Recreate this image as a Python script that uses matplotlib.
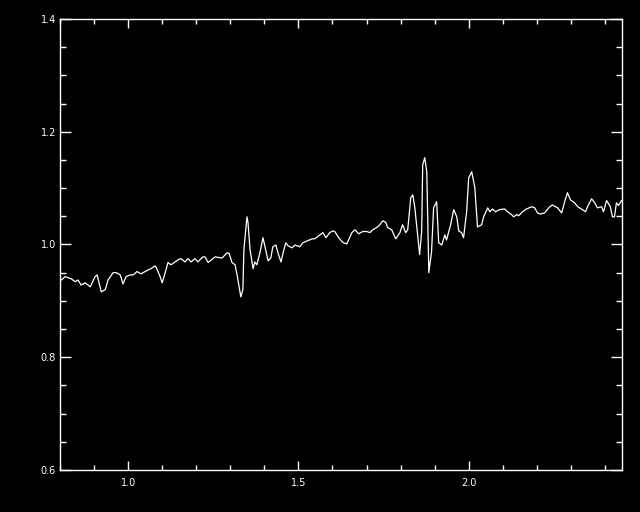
import numpy as np
import matplotlib
matplotlib.use('Agg')
import matplotlib.pyplot as plt
from matplotlib.ticker import MultipleLocator

# spectrum
wave = [0.804, 0.815, 0.824, 0.833, 0.845, 0.853, 0.862, 0.874, 0.889, 0.903,
        0.909, 0.921, 0.933, 0.941, 0.956, 0.965, 0.977, 0.985, 0.994, 1.006,
        1.015, 1.026, 1.038, 1.050, 1.059, 1.067, 1.079, 1.082, 1.094, 1.100,
        1.109, 1.117, 1.126, 1.138, 1.147, 1.155, 1.167, 1.176, 1.185, 1.196,
        1.205, 1.211, 1.220, 1.226, 1.235, 1.255, 1.276, 1.290, 1.296, 1.305,
        1.314, 1.320, 1.331, 1.337, 1.340, 1.349, 1.352, 1.358, 1.367, 1.372,
        1.378, 1.387, 1.396, 1.402, 1.411, 1.419, 1.425, 1.434, 1.440, 1.449,
        1.455, 1.463, 1.469, 1.481, 1.490, 1.504, 1.513, 1.528, 1.540, 1.548,
        1.563, 1.572, 1.581, 1.592, 1.601, 1.607, 1.616, 1.628, 1.633, 1.642,
        1.657, 1.666, 1.677, 1.689, 1.701, 1.710, 1.718, 1.730, 1.739, 1.748,
        1.757, 1.762, 1.774, 1.786, 1.798, 1.806, 1.815, 1.821, 1.830, 1.836,
        1.842, 1.856, 1.862, 1.865, 1.871, 1.877, 1.883, 1.891, 1.897, 1.906,
        1.912, 1.921, 1.930, 1.935, 1.947, 1.956, 1.965, 1.971, 1.979, 1.985,
        1.994, 2.000, 2.009, 2.018, 2.026, 2.038, 2.044, 2.056, 2.062, 2.070,
        2.079, 2.091, 2.106, 2.114, 2.126, 2.132, 2.141, 2.147, 2.158, 2.170,
        2.185, 2.194, 2.202, 2.211, 2.223, 2.238, 2.246, 2.261, 2.273, 2.282,
        2.290, 2.299, 2.311, 2.320, 2.331, 2.343, 2.349, 2.361, 2.370, 2.378,
        2.390, 2.396, 2.405, 2.416, 2.422, 2.428, 2.434, 2.440, 2.449]
flux = [0.937, 0.943, 0.941, 0.939, 0.934, 0.937, 0.928, 0.932, 0.925, 0.943,
        0.946, 0.916, 0.920, 0.937, 0.950, 0.950, 0.946, 0.930, 0.943, 0.946,
        0.946, 0.952, 0.948, 0.952, 0.955, 0.957, 0.962, 0.960, 0.943, 0.932,
        0.950, 0.968, 0.964, 0.969, 0.973, 0.975, 0.969, 0.975, 0.969, 0.975,
        0.969, 0.973, 0.978, 0.978, 0.968, 0.978, 0.976, 0.985, 0.985, 0.968,
        0.964, 0.946, 0.907, 0.920, 0.991, 1.049, 1.039, 0.991, 0.957, 0.969,
        0.964, 0.985, 1.012, 0.996, 0.971, 0.976, 0.996, 0.999, 0.985, 0.969,
        0.985, 1.003, 0.998, 0.994, 0.999, 0.996, 1.003, 1.007, 1.010, 1.010,
        1.017, 1.021, 1.012, 1.021, 1.024, 1.023, 1.014, 1.005, 1.003, 1.001,
        1.021, 1.026, 1.019, 1.023, 1.023, 1.021, 1.026, 1.030, 1.035, 1.042,
        1.039, 1.030, 1.026, 1.010, 1.021, 1.035, 1.021, 1.026, 1.083, 1.088,
        1.065, 0.982, 1.023, 1.141, 1.154, 1.129, 0.950, 0.987, 1.065, 1.076,
        1.003, 0.999, 1.017, 1.008, 1.035, 1.062, 1.049, 1.024, 1.021, 1.012,
        1.058, 1.118, 1.129, 1.101, 1.031, 1.035, 1.049, 1.065, 1.058, 1.063,
        1.058, 1.062, 1.063, 1.058, 1.053, 1.049, 1.053, 1.051, 1.058, 1.063,
        1.067, 1.065, 1.056, 1.054, 1.056, 1.067, 1.070, 1.065, 1.056, 1.076,
        1.092, 1.079, 1.074, 1.067, 1.063, 1.058, 1.067, 1.081, 1.074, 1.065,
        1.067, 1.058, 1.078, 1.067, 1.049, 1.049, 1.074, 1.069, 1.078]

fig = plt.figure(figsize=(6.4, 5.12), dpi=100, facecolor='black')
ax = fig.add_axes([0.09375, 0.082, 0.878, 0.881])
ax.set_facecolor('black')
ax.plot(wave, flux, color='white', linewidth=0.9)

ax.set_xlim(0.8, 2.45)
ax.set_ylim(0.6, 1.4)
ax.xaxis.set_major_locator(MultipleLocator(0.5))
ax.xaxis.set_minor_locator(MultipleLocator(0.1))
ax.yaxis.set_major_locator(MultipleLocator(0.2))
ax.yaxis.set_minor_locator(MultipleLocator(0.05))
ax.xaxis.set_major_formatter(matplotlib.ticker.FormatStrFormatter('%.1f'))
ax.yaxis.set_major_formatter(matplotlib.ticker.FormatStrFormatter('%.1f'))

for s in ax.spines.values():
    s.set_color('white')
    s.set_linewidth(1.0)
ax.tick_params(axis='both', which='both', direction='in', colors='white',
               top=True, right=True, labelsize=7, width=1.0)
ax.tick_params(axis='x', which='major', length=6.5, pad=6)
ax.tick_params(axis='x', which='minor', length=3.3)
ax.tick_params(axis='y', which='major', length=8, pad=3)
ax.tick_params(axis='y', which='minor', length=4)

fig.savefig('out.png', dpi=100, facecolor='black')
